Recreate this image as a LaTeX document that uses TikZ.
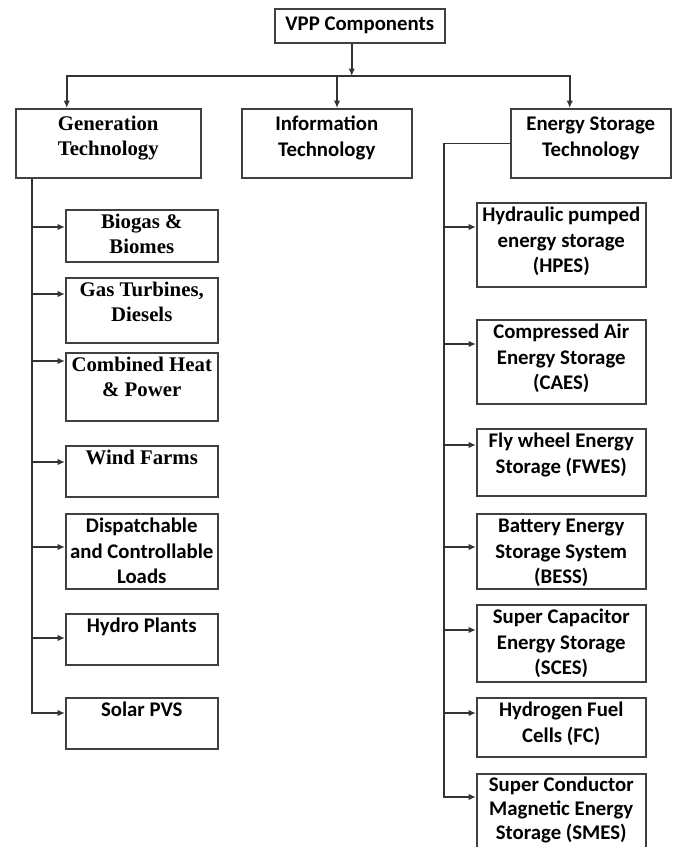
\documentclass[tikz,border=0pt]{standalone}
\usepackage{fontspec}
\setmainfont{Liberation Serif}
\newfontfamily\calfont{Carlito}
\usepackage{tikz}
\usetikzlibrary{arrows.meta, positioning}
% texte aligne sur la premiere ligne
\newcommand{\vtxt}[1]{\begin{tabular}[t]{@{}c@{}}#1\end{tabular}}

\begin{document}
\begin{tikzpicture}[
                x=1pt, y=-1pt,
                box/.style={draw=black!75, line width=1.5pt, anchor=north west, inner xsep=2pt, inner ysep=4pt},
                tnr/.style={font=\fontsize{20.8}{25}\selectfont\bfseries},
                cal/.style={font=\calfont\fontsize{20.8}{25.5}\selectfont\bfseries},
                topbox/.style={box, text height=18pt, text depth=43pt},
                gbox/.style={box, minimum width=152pt, text height=15pt},
                ebox/.style={box, minimum width=169pt, text height=15pt},
                line/.style={draw=black!80, line width=1.5pt},
                arr/.style={line, -{Latex[length=7.5pt, width=6.5pt]}}
                ]
                \useasboundingbox (0,0) rectangle (678,847);

                % Racine
                \node[box, cal, minimum width=170pt, minimum height=34pt] (vpp) at (274,8) {VPP Components};

                % Trois familles
                \node[topbox, tnr, minimum width=185pt] (gen) at (15,108) {\vtxt{Generation\\Technology}};
                \node[topbox, cal, minimum width=170pt] (info) at (241,108) {\vtxt{Information\\Technology}};
                \node[topbox, cal, minimum width=160pt] (est) at (510,108) {\vtxt{Energy Storage\\Technology}};

                % Bus horizontal
                \coordinate (bus) at (337,76);
                \draw[arr] ([xshift=-8pt]vpp.south) -- ([xshift=-8pt]vpp.south |- bus);
                \draw[arr] (bus) -| ([xshift=-41.5pt]gen.north);
                \draw[arr] (bus) -| ([xshift=-21pt]est.north);
                \draw[arr] (bus) -- (bus |- info.north);

                % Generation - colonne gauche
                \node[gbox, tnr, text depth=29pt] (bio) at (65,209) {\vtxt{Biogas \&\\Biomes}};
                \node[gbox, tnr, text depth=42pt] (gas) at (65,277) {\vtxt{Gas Turbines,\\Diesels}};
                \node[gbox, tnr, text depth=45pt] (chp) at (65,352) {\vtxt{Combined Heat\\\& Power}};
                \node[gbox, tnr, text depth=28pt] (wind) at (65,445) {\vtxt{Wind Farms}};
                \node[gbox, cal, text depth=52pt] (load) at (65,513) {\vtxt{Dispatchable\\and Controllable\\Loads}};
                \node[gbox, cal, text depth=28pt] (hydro) at (65,613) {\vtxt{Hydro Plants}};
                \node[gbox, cal, text depth=28pt] (solar) at (65,697) {\vtxt{Solar PVS}};

                % Stockage - colonne droite
                \node[ebox, cal, text depth=61pt] (hpes) at (476,202) {\vtxt{Hydraulic pumped\\energy storage\\(HPES)}};
                \node[ebox, cal, text depth=61pt] (caes) at (476,319) {\vtxt{Compressed Air\\Energy Storage\\(CAES)}};
                \node[ebox, cal, text depth=44pt] (fwes) at (476,428) {\vtxt{Fly wheel Energy\\Storage (FWES)}};
                \node[ebox, cal, text depth=52pt] (bess) at (476,513) {\vtxt{Battery Energy\\Storage System\\(BESS)}};
                \node[ebox, cal, text depth=54pt] (sces) at (476,604) {\vtxt{Super Capacitor\\Energy Storage\\(SCES)}};
                \node[ebox, cal, text depth=36pt] (fc) at (476,697) {\vtxt{Hydrogen Fuel\\Cells (FC)}};
                \node[ebox, cal, font=\calfont\fontsize{20.8}{24}\selectfont\bfseries, text height=14pt, text depth=58pt] (smes) at (476,773) {\vtxt{Super Conductor\\Magnetic Energy\\Storage (SMES)}};

                % Liaisons generation
                \coordinate (gcol) at (32,0);
                \foreach \b/\o in {bio/18, gas/17, chp/9, wind/17, load/34, hydro/25} {
                    \path ([yshift=-\o pt]\b.north west) coordinate (t);
                    \draw[arr] (t -| gcol) -- (t);
                }
                \path ([yshift=-16pt]solar.north west) coordinate (tsolar);
                \draw[arr] (gen.south -| gcol) -- (tsolar -| gcol) -- (tsolar);

                % Liaisons stockage
                \coordinate (ecol) at (444,0);
                \foreach \b/\o in {hpes/25, caes/25, fwes/17, bess/34, sces/26, fc/16} {
                    \path ([yshift=-\o pt]\b.north west) coordinate (t);
                    \draw[arr] (t -| ecol) -- (t);
                }
                \path ([yshift=-24pt]smes.north west) coordinate (tsmes);
                \draw[arr] (est.west) -| (tsmes -| ecol) -- (tsmes);

                \end{tikzpicture}
\end{document}
